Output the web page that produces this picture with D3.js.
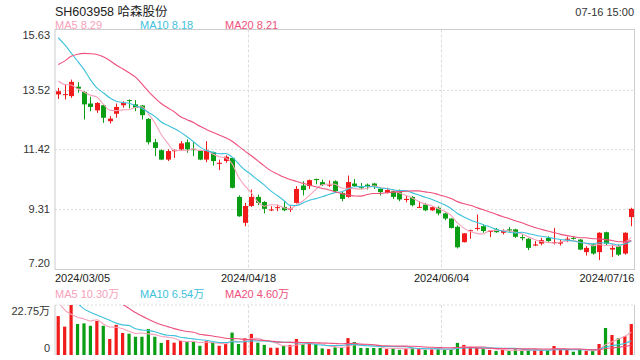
<!DOCTYPE html>
<html><head><meta charset="utf-8">
<script src="https://cdn.jsdelivr.net/npm/d3@7"></script>
<style>
body{margin:0;background:#fff}
svg{display:block}
text{font-family:"Liberation Sans",Arial,"Noto Sans CJK SC",sans-serif}
</style>
</head><body>
<svg id="c" width="640" height="360"></svg>
<script>
// ---------- data ----------
const stockTitle = "SH603958 哈森股份";
const timeLabel = "07-16 15:00";
const open = [13.35,13.34,13.29,13.62,13.44,13.03,12.79,12.97,12.41,12.67,
12.97,13.15,13.00,12.96,12.49,11.67,11.39,11.06,11.37,11.42,
11.67,11.44,11.39,11.06,11.32,10.91,11.01,11.12,9.75,8.84,
9.43,9.75,9.57,9.28,9.37,9.40,9.31,9.54,10.15,10.13,
10.38,10.27,10.15,10.30,9.89,9.75,10.22,10.09,10.18,10.22,
10.03,9.89,9.95,9.92,9.64,9.75,9.37,9.48,9.28,9.37,
9.17,8.99,8.70,8.16,8.55,8.63,8.72,8.52,8.61,8.49,
8.61,8.61,8.34,8.28,8.04,8.11,8.31,8.14,8.11,8.25,
8.31,8.25,7.81,8.08,7.81,8.51,7.90,8.02,7.76,9.04];
const close = [13.46,13.36,13.79,13.55,13.00,12.91,13.05,12.53,12.50,12.91,
13.05,13.12,12.88,12.62,11.67,11.47,11.06,11.36,11.39,11.63,
11.42,11.39,11.06,11.39,11.01,10.95,11.16,10.07,9.07,9.43,
9.75,9.54,9.33,9.31,9.39,9.28,9.34,10.03,9.99,10.34,
10.34,10.17,10.18,9.95,9.68,10.27,10.13,10.06,10.13,10.13,
9.92,9.99,9.75,9.66,9.68,9.46,9.40,9.28,9.39,9.17,
8.99,8.66,7.98,8.47,8.58,8.66,8.55,8.57,8.51,8.55,
8.57,8.35,8.30,7.96,8.08,8.23,8.20,8.16,8.16,8.28,
8.28,7.90,7.96,7.76,8.49,8.11,7.96,7.72,8.49,9.33];
const high = [13.58,13.70,13.87,13.78,13.46,13.27,13.08,12.99,12.59,13.03,
13.11,13.17,13.15,12.98,12.52,11.79,11.42,11.42,11.42,11.71,
11.77,11.67,11.40,11.71,11.34,11.06,11.21,11.14,9.80,9.54,
10.01,9.83,9.60,9.42,9.48,9.60,9.42,10.13,10.30,10.36,
10.39,10.36,10.33,10.33,9.95,10.50,10.38,10.24,10.22,10.24,
10.07,10.07,10.01,10.01,9.78,9.78,9.60,9.54,9.42,9.42,
9.20,9.00,8.75,8.48,8.60,9.13,8.78,8.57,8.66,8.61,
8.69,8.63,8.43,8.30,8.20,8.31,8.37,8.66,8.25,8.35,
8.35,8.27,8.02,8.11,8.51,8.53,8.08,8.08,8.51,9.37];
const low = [13.19,13.17,13.23,13.41,12.47,12.76,12.70,12.35,12.33,12.53,
12.88,12.86,12.76,12.47,11.59,11.18,11.04,11.01,11.12,11.39,
11.30,11.18,11.04,10.97,10.85,10.69,10.95,10.05,9.05,8.72,
9.40,9.46,9.17,9.25,9.25,9.25,9.22,9.52,9.80,10.03,
10.19,10.13,10.10,9.89,9.60,9.72,10.10,10.03,10.01,10.03,
9.80,9.87,9.68,9.60,9.56,9.42,9.36,9.25,9.26,9.10,
8.93,8.64,7.94,8.15,8.28,8.57,8.49,8.34,8.49,8.43,
8.51,8.31,8.22,7.88,8.02,8.05,8.14,8.08,8.04,8.16,
8.25,7.88,7.69,7.72,7.53,8.05,7.64,7.68,7.72,8.72];
// volume in 万
const volume = [17.7,12.9,22.75,14.1,14.4,13.3,15.5,13.3,7.3,13.7,
10.0,9.7,8.3,8.3,11.8,8.3,5.5,6.8,5.6,6.4,
6.1,6.1,4.2,6.4,5.8,4.2,5.0,10.2,5.0,7.6,
9.6,5.6,4.6,3.3,3.3,4.1,4.6,7.3,5.0,5.0,
4.9,3.0,2.7,3.5,3.2,7.7,5.9,3.2,3.2,3.2,
3.2,2.7,3.0,2.3,2.9,3.2,2.9,2.3,2.6,2.9,
2.3,2.7,5.5,4.6,3.3,3.3,2.7,2.3,1.8,2.3,
1.8,2.6,1.8,2.3,2.3,2.3,2.3,4.1,2.6,2.3,
1.5,2.6,1.8,1.8,5.0,12.3,9.1,7.6,8.6,14.1];
// moving-average values at the start of the window (need earlier data)
const ma5Lead  = [13.82,13.70,13.68,13.55];
const ma10Lead = [15.34,15.10,14.81,14.52,14.23,13.87,13.58,13.41,13.23];
const ma20Lead = [14.40,14.52,14.69,14.76,14.79,14.78,14.75,14.67,14.54,14.38,14.25,14.11,13.96,13.72,13.46,13.23,13.03,12.88,12.74];
const vma5Lead  = [24.5,20.5,18.5,17.2];
const vma10Lead = [27,26,25,23.5,21,19.5,18.2,17,15.8];
const vma20Lead = [30,30,30,29,28,27,26,25,24.5,24,23,21.2,19.3,17.7,16.3,14.9,13.8,12.9,12.0];
// axis labels
const priceTicks = [15.63,13.52,11.42,9.31,7.20];
const volTicks = [22.75,0];
const dateTickIdx = [0,30,60,89];
const dateTickLabels = ["2024/03/05","2024/04/18","2024/06/04","2024/07/16"];
const maLabels = ["MA5 8.29","MA10 8.18","MA20 8.21"];
const vmaLabels = ["MA5 10.30万","MA10 6.54万","MA20 4.60万"];

// ---------- drawing ----------
const UP="#f21b1b", DOWN="#0a9e14";
const MAC=["#f7a1ba","#3ec2dc","#ee4f7c"];
const svg=d3.select("#c");
const n=close.length;
const L=55,R=634.5,T=29.5,B=269.5,VT=305,VB=355;
const x=d3.scaleBand().domain(d3.range(n)).range([L,R]).paddingInner(0.25).paddingOuter(0.125);
const cx=i=>x(i)+x.bandwidth()/2;
const y=d3.scaleLinear().domain([7.20,15.63]).range([B,T]);
const yv=d3.scaleLinear().domain([0,22.75]).range([VB,VT]);

function ma(vals,p,lead){return vals.map((v,i)=>i<p-1?lead[i]:d3.mean(vals.slice(i-p+1,i+1)));}
const isUp=i=>close[i]>open[i]||(close[i]===open[i]&&i>0&&close[i]>=close[i-1]);

const defs=svg.append("defs");
defs.append("clipPath").attr("id","cm").append("rect").attr("x",L).attr("y",T).attr("width",R-L).attr("height",B-T);
defs.append("clipPath").attr("id","cv").append("rect").attr("x",L).attr("y",VT).attr("width",R-L).attr("height",VB-VT);

// title
svg.append("text").attr("x",55).attr("y",15.5).attr("font-size",12.5).attr("fill","#222").text(stockTitle);
svg.append("text").attr("x",634).attr("y",16).attr("font-size",11).attr("fill","#333").attr("text-anchor","end").text(timeLabel);
const legX=[55,140,225];
maLabels.forEach((t,k)=>svg.append("text").attr("x",legX[k]).attr("y",28.5).attr("font-size",11).attr("fill",MAC[k]).text(t));
vmaLabels.forEach((t,k)=>svg.append("text").attr("x",legX[k]).attr("y",298).attr("font-size",11).attr("fill",MAC[k]).text(t));

// grid main
const g=svg.append("g");
priceTicks.slice(1,-1).forEach(v=>g.append("line").attr("x1",L).attr("x2",R).attr("y1",Math.round(y(v))+0.5).attr("y2",Math.round(y(v))+0.5).attr("stroke","#ddd").attr("stroke-dasharray","2,2"));
const gx=i=>Math.round(cx(i)-x.step()/2)+0.5;
[30,60].forEach(i=>{
  g.append("line").attr("x1",gx(i)).attr("x2",gx(i)).attr("y1",T).attr("y2",B).attr("stroke","#ddd").attr("stroke-dasharray","3,2");
  g.append("line").attr("x1",gx(i)).attr("x2",gx(i)).attr("y1",VT).attr("y2",VB).attr("stroke","#ddd").attr("stroke-dasharray","3,2");
});
g.append("rect").attr("x",L).attr("y",T).attr("width",R-L).attr("height",B-T).attr("fill","none").attr("stroke","#ccc");
g.append("line").attr("x1",L).attr("x2",R).attr("y1",VT).attr("y2",VT).attr("stroke","#ddd").attr("stroke-dasharray","2,2");
g.append("line").attr("x1",L).attr("x2",L).attr("y1",VT).attr("y2",VB).attr("stroke","#ccc");
g.append("line").attr("x1",R).attr("x2",R).attr("y1",VT).attr("y2",VB).attr("stroke","#ccc");

// price labels
priceTicks.forEach((v,k)=>{
  let yy=y(v)+4;
  if(k===0) yy=T+9.5; if(k===priceTicks.length-1) yy=B-2.5;
  svg.append("text").attr("x",50).attr("y",yy).attr("font-size",11).attr("fill","#333").attr("text-anchor","end").text(v.toFixed(2));
});
volTicks.forEach((v,k)=>{
  svg.append("text").attr("x",50).attr("y",k===0?315:352).attr("font-size",11).attr("fill","#333").attr("text-anchor","end").text(v===0?"0":v.toFixed(2)+"万");
});
dateTickIdx.forEach((i,k)=>{
  const anchor=k===0?"start":(k===dateTickIdx.length-1?"end":"middle");
  const xx=k===0?L:(k===dateTickIdx.length-1?R:gx(i));
  svg.append("text").attr("x",xx).attr("y",282).attr("font-size",11).attr("fill","#222").attr("text-anchor",anchor).text(dateTickLabels[k]);
});

// candles
const cg=svg.append("g").attr("clip-path","url(#cm)");
d3.range(n).forEach(i=>{
  const col=isUp(i)?UP:DOWN;
  const xc=Math.round(cx(i))+0.5;
  cg.append("line").attr("x1",xc).attr("x2",xc).attr("y1",y(high[i])).attr("y2",y(low[i])).attr("stroke",col).attr("stroke-width",1);
  const y0=y(Math.max(open[i],close[i])), y1=y(Math.min(open[i],close[i]));
  cg.append("rect").attr("x",xc-2.5).attr("width",5).attr("y",y0).attr("height",Math.max(1,y1-y0)).attr("fill",col);
});
const line=d3.line().x((d,i)=>cx(i)).y(d=>y(d)).curve(d3.curveMonotoneX);
[ma(close,5,ma5Lead),ma(close,10,ma10Lead),ma(close,20,ma20Lead)].forEach((arr,k)=>{
  cg.append("path").attr("d",line(arr)).attr("fill","none").attr("stroke",MAC[k]).attr("stroke-width",1.1);
});

// volume
const vg=svg.append("g").attr("clip-path","url(#cv)");
const bw=x.step()*0.5;
d3.range(n).forEach(i=>{
  vg.append("rect").attr("x",cx(i)-bw/2).attr("width",bw).attr("y",yv(volume[i])).attr("height",yv(0)-yv(volume[i])).attr("fill",isUp(i)?UP:DOWN);
});
const vline=d3.line().x((d,i)=>cx(i)).y(d=>yv(d)).curve(d3.curveMonotoneX);
[ma(volume,5,vma5Lead),ma(volume,10,vma10Lead),ma(volume,20,vma20Lead)].forEach((arr,k)=>{
  vg.append("path").attr("d",vline(arr)).attr("fill","none").attr("stroke",MAC[k]).attr("stroke-width",1.1);
});
</script>
</body></html>
